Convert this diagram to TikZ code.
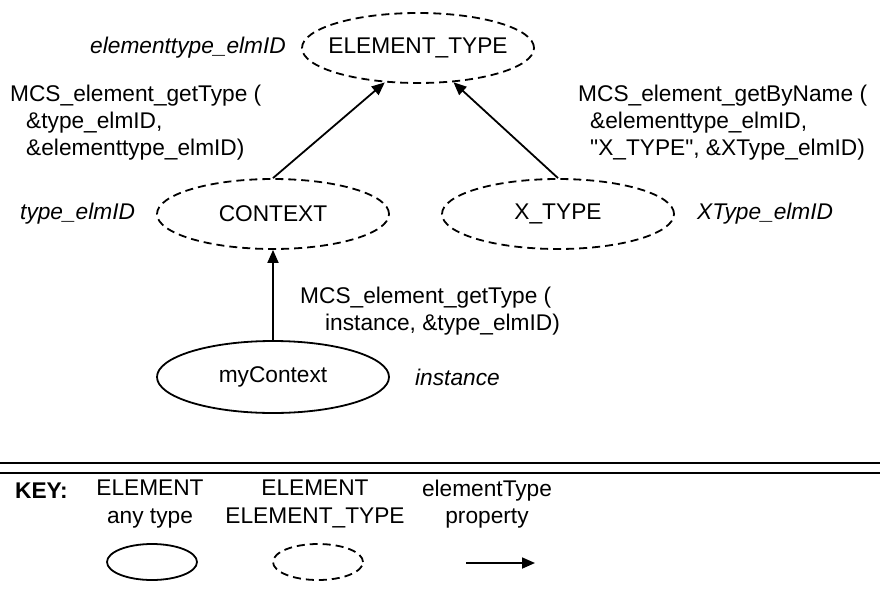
\documentclass[tikz,border=0pt]{standalone}
\usepackage{fontspec}
\setmainfont{Liberation Sans}[Ligatures=TeXOff]
\usetikzlibrary{shapes.geometric,arrows.meta}
\newcommand{\ctext}[1]{\makebox[0pt][c]{#1}}
\begin{document}
\begin{tikzpicture}[x=1pt,y=-1pt,
  every node/.style={font=\fontsize{22.7}{27.5}\selectfont, inner sep=0pt},
  elm/.style={draw, ellipse, line width=1.8pt, minimum width=232pt, minimum height=70pt},
  elmtype/.style={elm, dash pattern=on 8pt off 5pt},
  keyelm/.style={draw, ellipse, line width=1.8pt, minimum width=90pt, minimum height=36pt},
  prop/.style={line width=1.8pt, -{Triangle[length=13pt,width=11pt]}},
  idlabel/.style={font=\fontsize{22.7}{27.5}\selectfont\itshape},
  call/.style={align=left, anchor=north west}
]
\useasboundingbox (0,0) rectangle (880,589);

% element types
\node[elmtype] (et) at (418,48) {\ctext{ELEMENT\_TYPE}};
\node[elmtype] (ctx) at (273,214) {\ctext{CONTEXT}};
\node[elmtype] (xt) at (558,214) {\ctext{X\_TYPE}};
% instance
\node[elm, minimum height=72pt] (my) at (273,377) {\ctext{myContext}};

% identifier labels
\node[idlabel, anchor=east] (etid) at (286,48) {elementtype\_elmID};
\node[idlabel, anchor=west] (ctxid) at (20,214) {type\_elmID};
\node[idlabel, anchor=west] (xtid) at (697,214) {XType\_elmID};
\node[idlabel, anchor=west] (myid) at (415,377) {instance};

% call labels
\node[call] (c1) at (10,85) {MCS\_element\_getType (\\[-0.5pt]
  \hspace*{16pt}\&type\_elmID,\\[-0.5pt]
  \hspace*{16pt}\&elementtype\_elmID)};
\node[call] (c2) at (578,85) {MCS\_element\_getByName (\\[-0.5pt]
  \hspace*{12pt}\&elementtype\_elmID,\\[-0.5pt]
  \hspace*{12pt}"X\_TYPE", \&XType\_elmID)};
\node[call] (c3) at (300,287) {MCS\_element\_getType (\\[-0.5pt]
  \hspace*{25pt}instance, \&type\_elmID)};

% elementType properties
\draw[prop] (ctx.north) -- (et.226);
\draw[prop] (xt.north) -- (et.316);
\draw[prop] (my.north) -- (ctx.south);

% separator
\coordinate (s1) at (0,463);
\coordinate (s2) at (880,463);
\coordinate (s3) at (0,473);
\coordinate (s4) at (880,473);
\draw[line width=1.8pt] (s1) -- (s2);
\draw[line width=1.8pt] (s3) -- (s4);

% key
\node[anchor=west, font=\fontsize{22.7}{27.5}\selectfont\bfseries] (key) at (15,491) {KEY:};
\node[align=center] (k1) at (150,504) {ELEMENT\\any type};
\node[align=center] (k2) at (315,504) {ELEMENT\\ELEMENT\_TYPE};
\node[align=center] (k3) at (487,504) {elementType\\property};
\node[keyelm] (ke1) at (152,562) {};
\node[keyelm, dash pattern=on 8pt off 5pt] (ke2) at (318,562) {};
\coordinate (ka) at (466,563);
\coordinate (kb) at (535,563);
\draw[prop] (ka) -- (kb);
\end{tikzpicture}
\end{document}
